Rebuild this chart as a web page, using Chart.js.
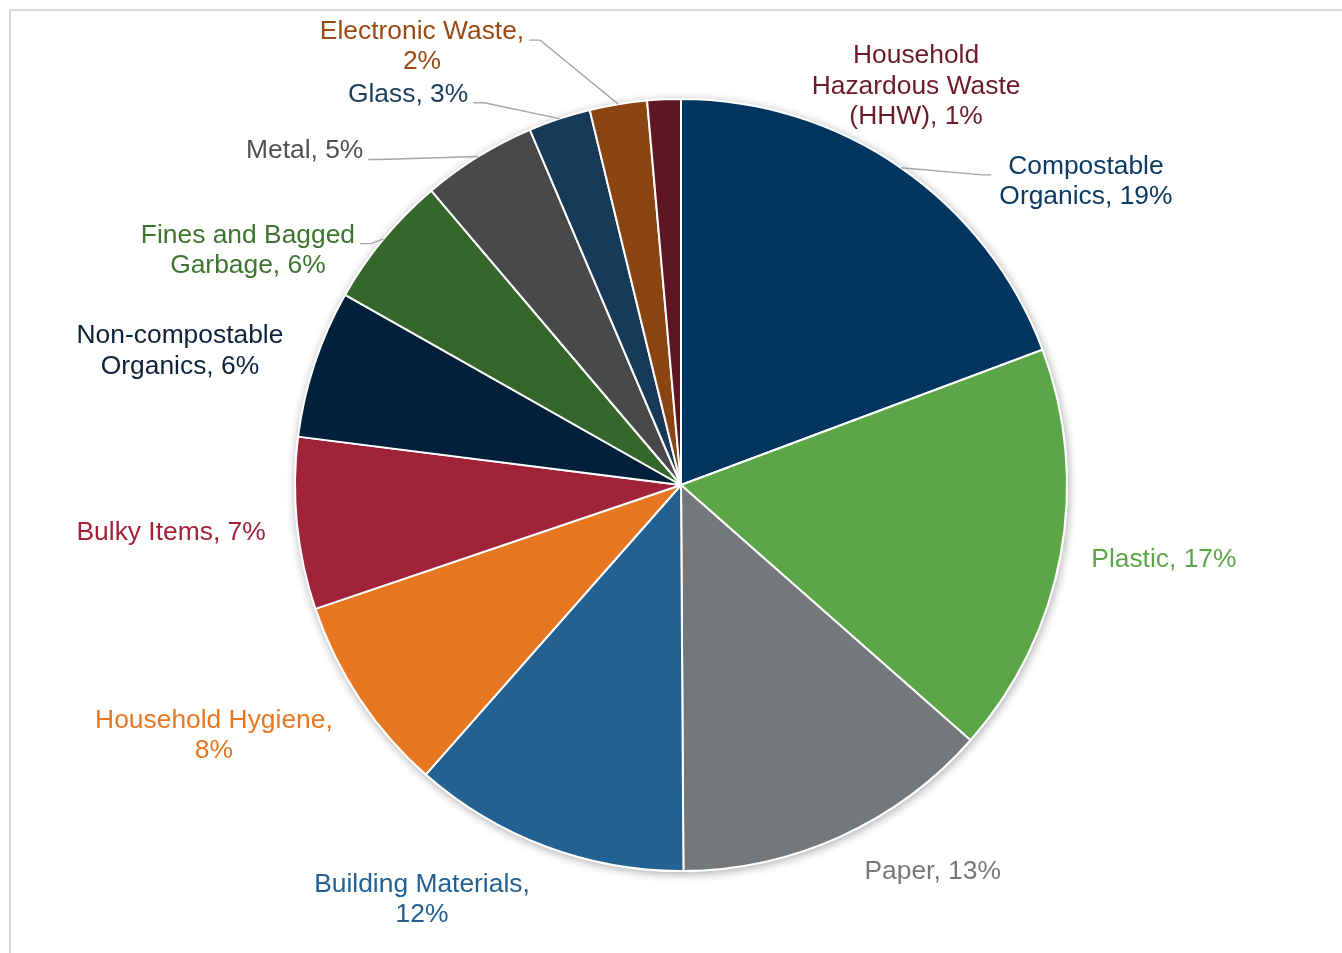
<!DOCTYPE html>
<html>
<head>
<meta charset="utf-8">
<script src="https://cdn.jsdelivr.net/npm/chart.js@4.4.1/dist/chart.umd.min.js"></script>
<style>
  html, body { margin: 0; padding: 0; background: #ffffff; }
  #wrap { position: relative; width: 1342px; height: 953px; }
</style>
</head>
<body>
<div id="wrap"><canvas id="wasteChart" width="1342" height="953"></canvas></div>
<script>
// Waste composition by material category (share of total, %)
const categories = [
  "Compostable Organics",
  "Plastic",
  "Paper",
  "Building Materials",
  "Household Hygiene",
  "Bulky Items",
  "Non-compostable Organics",
  "Fines and Bagged Garbage",
  "Metal",
  "Glass",
  "Electronic Waste",
  "Household Hazardous Waste (HHW)"
];
const shares = [19.3, 17.2, 13.4, 11.6, 8.3, 7.2, 6.2, 5.6, 4.8, 2.6, 2.4, 1.4];

const sliceColors = [
  "#00355f", "#5ba747", "#75787b", "#236192", "#e87722", "#a0233a",
  "#012039", "#36672a", "#48494b", "#173a58", "#8b4513", "#5e1623"
];
const labelColors = [
  "#0b3a63", "#5ba747", "#75787b", "#236192", "#e87722", "#a0233a",
  "#0d2138", "#3f7430", "#505153", "#1b3d5c", "#9a4a12", "#6a1b27"
];

// Label placement: anchor of the first text line (centre x, baseline y) in
// units of the pie radius from the pie centre, wrap width and leader side.
const labelLayout = [
  { fx:  1.049, fy: -0.806, wrap: 200, leader: "left"  },
  { fx:  1.251, fy:  0.212, wrap: 240, leader: null    },
  { fx:  0.652, fy:  1.021, wrap: 240, leader: null    },
  { fx: -0.671, fy:  1.054, wrap: 240, leader: null    },
  { fx: -1.210, fy:  0.630, wrap: 260, leader: null    },
  { fx: -1.321, fy:  0.142, wrap: 240, leader: null    },
  { fx: -1.298, fy: -0.367, wrap: 230, leader: null    },
  { fx: -1.122, fy: -0.628, wrap: 230, leader: "right" },
  { fx: -0.975, fy: -0.846, wrap: 240, leader: "right" },
  { fx: -0.707, fy: -0.993, wrap: 240, leader: "right" },
  { fx: -0.671, fy: -1.155, wrap: 230, leader: "right" },
  { fx:  0.609, fy: -1.092, wrap: 230, leader: null    }
];

const FONT_SIZE = 26.4;
const LINE_HEIGHT = 30.3;
const FONT = FONT_SIZE + 'px "Liberation Sans", Arial, sans-serif';
const total = shares.reduce((a, b) => a + b, 0);

function wrapText(ctx, text, maxW) {
  const words = text.split(" ");
  const lines = [];
  let cur = "";
  for (const w of words) {
    const t = cur ? cur + " " + w : w;
    if (cur && ctx.measureText(t).width > maxW) { lines.push(cur); cur = w; }
    else cur = t;
  }
  if (cur) lines.push(cur);
  return lines;
}

// Light frame along the top and left edges
const framePlugin = {
  id: "frame",
  beforeDraw(chart) {
    const ctx = chart.ctx;
    ctx.save();
    ctx.strokeStyle = "#d9d9d9";
    ctx.lineWidth = 2;
    ctx.beginPath();
    ctx.moveTo(10, 1000);
    ctx.lineTo(10, 10);
    ctx.lineTo(1400, 10);
    ctx.stroke();
    ctx.restore();
  }
};

// Soft drop shadow under the whole pie
const shadowPlugin = {
  id: "pieShadow",
  beforeDatasetsDraw(chart) {
    const arc = chart.getDatasetMeta(0).data[0];
    if (!arc) return;
    const ctx = chart.ctx;
    ctx.save();
    ctx.beginPath();
    ctx.arc(arc.x, arc.y, arc.outerRadius + 1, 0, Math.PI * 2);
    ctx.fillStyle = "#ffffff";
    ctx.shadowColor = "rgba(0,0,0,0.33)";
    ctx.shadowBlur = 10;
    ctx.shadowOffsetX = 1;
    ctx.shadowOffsetY = 2;
    ctx.fill();
    ctx.restore();
  }
};

// Outside data labels with leader lines
const labelPlugin = {
  id: "outsideLabels",
  afterDatasetsDraw(chart) {
    const ctx = chart.ctx;
    const arcs = chart.getDatasetMeta(0).data;
    ctx.save();
    ctx.font = FONT;
    ctx.textAlign = "center";
    ctx.textBaseline = "alphabetic";
    arcs.forEach((arc, i) => {
      const lay = labelLayout[i];
      const R = arc.outerRadius;
      const pct = Math.round(shares[i] / total * 100);
      const text = categories[i] + ", " + pct + "%";
      const lines = wrapText(ctx, text, lay.wrap);
      const x = arc.x + lay.fx * R;
      const y = arc.y + lay.fy * R;
      const maxW = Math.max(...lines.map(l => ctx.measureText(l).width));

      if (lay.leader) {
        const mid = (arc.startAngle + arc.endAngle) / 2;
        const ex = arc.x + Math.cos(mid) * R;
        const ey = arc.y + Math.sin(mid) * R;
        let sx, kx;
        if (lay.leader === "right") { sx = x + maxW / 2 + 5; kx = sx + 11; }
        else { sx = x - maxW / 2 - 8; kx = sx - 9; }
        const sy = y + 1;
        ctx.beginPath();
        ctx.strokeStyle = "#a6a6a6";
        ctx.lineWidth = 1.4;
        ctx.moveTo(sx, sy);
        ctx.lineTo(kx, sy);
        ctx.lineTo(ex, ey);
        ctx.stroke();
      }

      ctx.fillStyle = labelColors[i];
      lines.forEach((l, k) => ctx.fillText(l, x, y + k * LINE_HEIGHT));
    });
    ctx.restore();
  }
};

new Chart(document.getElementById("wasteChart"), {
  type: "pie",
  data: {
    labels: categories,
    datasets: [{
      data: shares,
      backgroundColor: sliceColors,
      borderColor: "#ffffff",
      borderWidth: 2,
      radius: 386
    }]
  },
  options: {
    responsive: false,
    animation: false,
    events: [],
    layout: { padding: { left: 20, top: 17, right: 0, bottom: 0 } },
    plugins: {
      legend: { display: false },
      tooltip: { enabled: false }
    }
  },
  plugins: [framePlugin, shadowPlugin, labelPlugin]
});
</script>
</body>
</html>
